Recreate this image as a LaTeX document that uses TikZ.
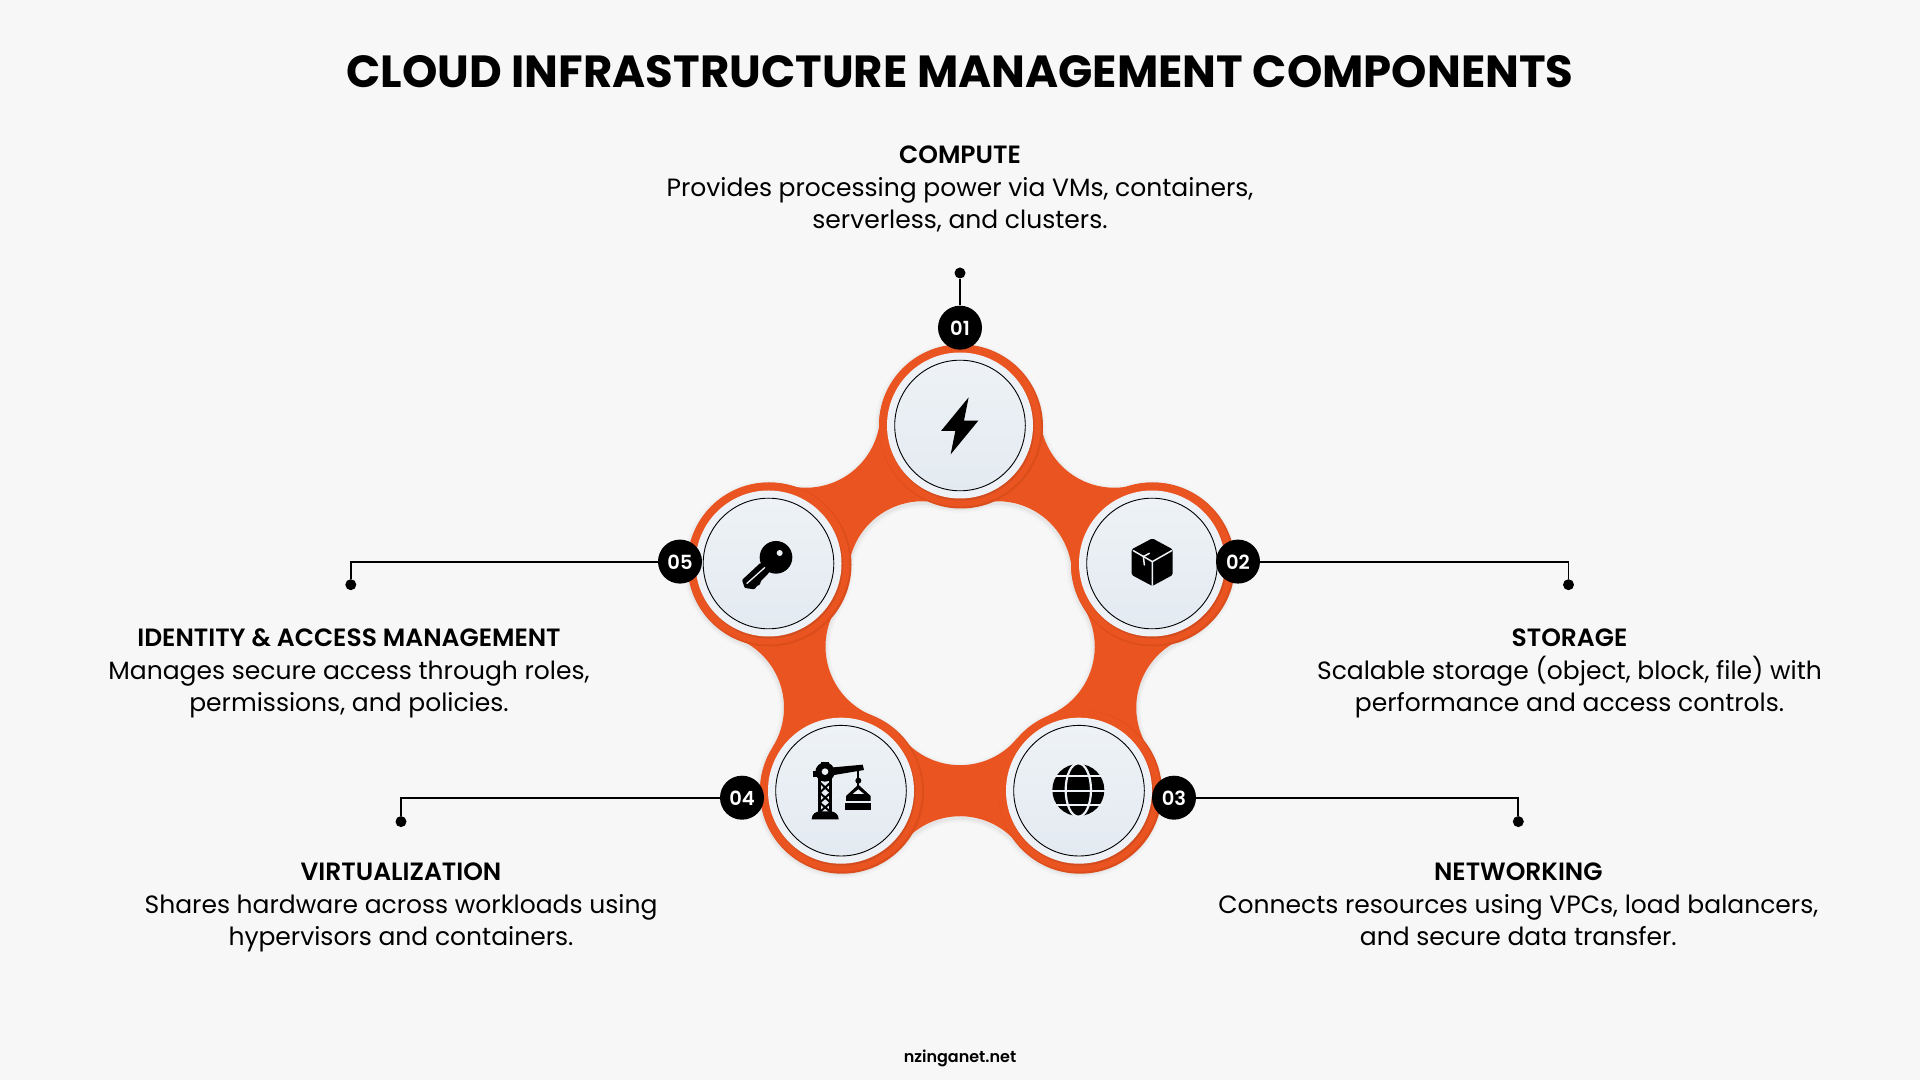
\documentclass[tikz,border=0pt]{standalone}
\usepackage{fontspec}
\setmainfont{Poppins}
\newfontfamily\semi{Poppins SemiBold}
\usetikzlibrary{calc}
\definecolor{bgc}{HTML}{F7F7F7}
\definecolor{org}{HTML}{EA5420}
\definecolor{orgd}{HTML}{DC4D1C}
\definecolor{orgs}{HTML}{B8441C}
\definecolor{ringc}{HTML}{EEF2F6}
\definecolor{discb}{HTML}{E3EAF1}
\newcommand{\hd}[1]{{\semi\rule{0pt}{30pt}#1}\\[1pt]}
\newcommand{\lastl}[1]{#1\rule[-10pt]{0pt}{10pt}}
\newcommand{\bn}[1]{\raisebox{-7.8pt}[0pt][0pt]{#1}}
\newcommand{\neckshape}{(-56.93,52.06) arc[start angle=220,end angle=320,radius=74.3pt] -- (56.93,-52.06) arc[start angle=40,end angle=140,radius=74.3pt] -- cycle}
\tikzset{
  innerdisc/.style={circle,draw=black,line width=.9pt,inner sep=0pt,minimum size=130.6pt,top color=ringc,bottom color=discb},
  badge/.style={circle,fill=black,inner sep=0pt,minimum size=44pt,text=white,font=\semi\fontsize{19.5}{19}\selectfont},
  pin/.style={circle,fill=black,inner sep=0pt,minimum size=11pt},
  leader/.style={draw=black,line width=1.9pt},
  label/.style={align=center,text=black,inner sep=0pt,font=\fontsize{25}{32}\selectfont},
  icon/.style={fill=black,draw=none},
  cut/.style={draw=ringc,line width=1.5pt,line cap=round}
}
\begin{document}
\begin{tikzpicture}[x=1pt,y=1pt]
\useasboundingbox (0,0) rectangle (1920,1080);
\fill[bgc] (0,0) rectangle (1920,1080);
% centres
\coordinate (p1) at (960,654.5);
\coordinate (p2) at (1152,516.5);
\coordinate (p3) at (1079,289.3);
\coordinate (p4) at (841,289.3);
\coordinate (p5) at (768.5,516.5);
% soft shadow of the band
\foreach \w/\g in {9/F3F3F3,6/EEEEEE,3/E5E5E5}{
  \foreach \a/\b/\r in {p1/p2/-35.7,p2/p3/72.2,p3/p4/0,p4/p5/-72.2,p5/p1/35.7}{
    \begin{scope}[shift={($(\a)!.5!(\b)+(0,-2)$)},rotate=\r]
      \definecolor{sh}{HTML}{\g}
      \draw[sh,line width=\w pt] \neckshape;
    \end{scope}
  }
  \foreach \a in {p1,p2,p3,p4,p5}{
    \definecolor{sh}{HTML}{\g}
    \fill[sh] ($(\a)+(0,-2)$) circle[radius=81+\w/2];
  }
}
% band
\foreach \a/\b/\r in {p1/p2/-35.7,p2/p3/72.2,p3/p4/0,p4/p5/-72.2,p5/p1/35.7}{
  \begin{scope}[shift={($(\a)!.5!(\b)$)},rotate=\r]
    \fill[org] \neckshape;
  \end{scope}
}
% discs
\foreach \a in {p1,p2,p3,p4,p5}{
  \fill[orgd] ($(\a)+(1,-1)$) circle[radius=82];
  \fill[org] (\a) circle[radius=81];
  \fill[orgs,opacity=.45] ($(\a)+(1,-1.6)$) circle[radius=73.4];
  \fill[ringc] (\a) circle[radius=73];
}
\node[innerdisc] (c1) at (p1) {};
\node[innerdisc] (c2) at (p2) {};
\node[innerdisc] (c3) at (p3) {};
\node[innerdisc] (c4) at (p4) {};
\node[innerdisc] (c5) at (p5) {};
% pins
\node[pin] (d1) at (960,807) {};
\node[pin] (d2) at (1568.5,495.3) {};
\node[pin] (d3) at (1518.3,258.4) {};
\node[pin] (d4) at (401,258.4) {};
\node[pin] (d5) at (350.8,495.3) {};
% badges
\node[badge] (b1) at (960,752.3) {\bn{01}};
\node[badge] (b2) at (1238,518.4) {\bn{02}};
\node[badge] (b3) at (1174,282.3) {\bn{03}};
\node[badge] (b4) at (742,282.3) {\bn{04}};
\node[badge] (b5) at (680,518.4) {\bn{05}};
% connectors
\draw[leader] (b1) -- (d1);
\draw[leader] (b2) -| (d2);
\draw[leader] (b3) -| (d3);
\draw[leader] (b4) -| (d4);
\draw[leader] (b5) -| (d5);
% bolt
\begin{scope}[shift={(880,710)},x=1pt/3,y=-1pt/3]
  \fill[icon] (266,82) -- (183,183) -- (226,183) -- (212,253) -- (295,152) -- (252,152) -- cycle;
\end{scope}
% box
\begin{scope}[shift={(1090,560)},x=1pt/3,y=-1pt/3]
  \fill[icon,rounded corners=1.5pt] (187,55) -- (248,88) -- (248,165) -- (187,198) -- (125,165) -- (125,88) -- cycle;
  \draw[cut] (187,195) -- (187,125) -- (245,92);
  \draw[cut] (187,125) -- (130,92);
  \draw[cut] (160,108) -- (163,135);
  \draw[cut] (160,110) -- (178,100);
\end{scope}
% globe
\begin{scope}[shift={(1040,330)},x=1pt/3,y=-1pt/3]
  \fill[icon] (115,120) circle[radius=78];
  \draw[draw=ringc,line width=2.2pt] (115,120) ellipse[x radius=38,y radius=80];
  \draw[draw=ringc,line width=2.2pt] (35,78) -- (195,78) (33,122) -- (197,122) (35,165) -- (195,165);
\end{scope}
% key
\begin{scope}[shift={(720,560)},x=1pt/3,y=-1pt/3]
  \fill[icon] (168,112) circle[radius=49];
  \fill[icon,rounded corners=1pt] (122,128) -- (66,180) -- (74,204) -- (104,208) -- (110,198) -- (120,194) -- (122,184) -- (150,155) -- cycle;
  \fill[ringc] (179,99) circle[radius=9];
  \draw[ringc,line width=1.3pt] (135,142) -- (80,191);
\end{scope}
% crane
\begin{scope}[shift={(790,330)},x=1pt/3,y=-1pt/3]
  \fill[icon] (105,66) circle[radius=29];
  \fill[icon] (68,62) rectangle (85,82);
  \fill[icon] (92,36) rectangle (118,48);
  \fill[icon] (120,53) -- (218,44) -- (222,60) -- (126,76) -- cycle;
  \fill[ringc] (105,65) circle[radius=10];
  \draw[black,line width=2.6pt] (89,88) -- (89,188) (122,88) -- (122,188);
  \draw[black,line width=2pt] (89,97) -- (122,128) -- (89,158) -- (122,186) (122,97) -- (89,128) -- (122,158) -- (89,186);
  \fill[icon] (65,208) .. controls (65,192) and (78,184) .. (90,184) -- (120,184) .. controls (134,184) and (146,192) .. (146,208) -- cycle;
  \draw[black,line width=1.7pt] (205,56) -- (205,112);
  \fill[icon] (205,92) circle[radius=9];
  \fill[icon] (205,104) -- (242,138) -- (242,153) -- (168,153) -- (168,138) -- cycle;
  \fill[ringc] (205,118) -- (222,132) -- (188,132) -- cycle;
  \fill[icon] (166,159) rectangle (242,179);
\end{scope}
% texts
\node[font=\fontsize{45}{45}\selectfont\bfseries] (title) at (960,1008) {CLOUD INFRASTRUCTURE MANAGEMENT COMPONENTS};
\node[label] (t1) at (960,894) {\hd{COMPUTE}Provides processing power via VMs, containers,\\\lastl{serverless, and clusters.}};
\node[label] (t2) at (1569.5,410.9) {\hd{STORAGE}Scalable storage (object, block, file) with\\\lastl{performance and access controls.}};
\node[label] (t3) at (1518.3,177.3) {\hd{NETWORKING}Connects resources using VPCs, load balancers,\\\lastl{and secure data transfer.}};
\node[label] (t4) at (401,177.3) {\hd{VIRTUALIZATION}Shares hardware across workloads using\\\lastl{hypervisors and containers.}};
\node[label] (t5) at (349,410.9) {\hd{IDENTITY \& ACCESS MANAGEMENT}Manages secure access through roles,\\\lastl{permissions, and policies.}};
\node[font=\semi\fontsize{16}{16}\selectfont] (foot) at (960,21.2) {nzinganet.net};
\end{tikzpicture}
\end{document}
